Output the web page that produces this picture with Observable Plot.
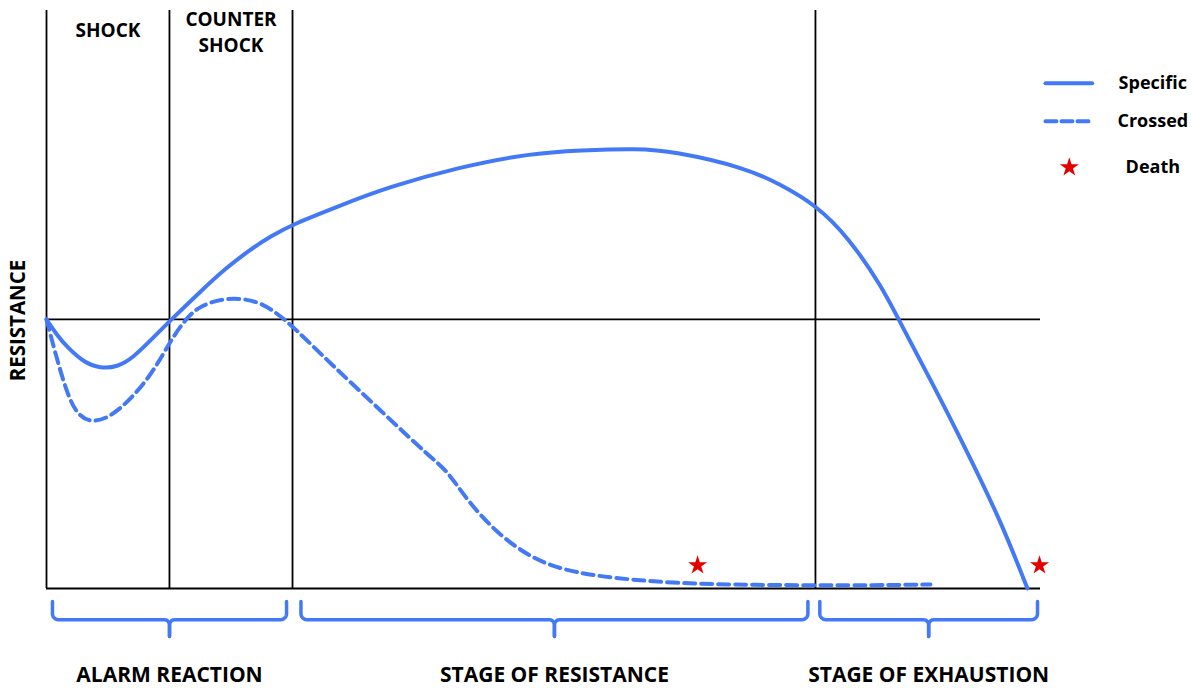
<!DOCTYPE html>
<html><head><meta charset="utf-8">
<script src="https://cdn.jsdelivr.net/npm/d3@7"></script>
<script src="https://cdn.jsdelivr.net/npm/@observablehq/plot@0.6"></script>
<style>body{margin:0;background:#fff;} svg{display:block;}</style>
</head><body><div id="chart"></div>
<script>
// ---- data (time in % of the course, resistance with normal level = 50) ----
const specificX = [0, 1.08, 2.08, 3.72, 5.43, 7.11, 8.75, 10.46, 12.47, 15.49, 18.01, 20.52, 22.54, 24.75, 29.58, 34.31, 41.51, 48.69, 53.72, 59.46, 63.08, 70.22, 73.84, 77.46, 80.68, 84.10, 85.81, 89.09, 92.56, 95.98, 98.69];
const specificY = [50, 47.03, 44.85, 42.06, 40.89, 41.13, 42.94, 46.10, 49.81, 55.20, 59.48, 63.01, 65.43, 67.66, 71.19, 74.54, 78.31, 80.86, 81.41, 81.78, 81.23, 78.25, 75.09, 71.19, 65.24, 55.95, 49.63, 38.29, 25.65, 12.64, 0];
const crossedX = [0, 1.08, 2.08, 3.09, 4.76, 7.11, 10.46, 12.47, 14.15, 15.49, 18.18, 21.20, 23.21, 24.85, 28.57, 33.60, 38.63, 40.31, 42.32, 45.34, 48.69, 52.01, 57.04, 63.78, 70.82, 80.89, 88.93];
const crossedY = [50, 42.38, 36.25, 32.16, 30.61, 32.53, 39.22, 46.10, 50.43, 52.60, 54.15, 53.53, 51.12, 48.57, 41.82, 33.09, 24.35, 21.93, 16.36, 10.22, 5.76, 3.35, 1.86, 0.93, 0.65, 0.56, 0.74];
const deathX = [65.5, 99.9];
const deathY = [4.3, 4.3];
const normalLevel = 50;
const phaseBounds = [0, 12.37, 24.75, 77.36];
const phaseNames = ["SHOCK", "COUNTER\nSHOCK"];
const stageNames = ["ALARM REACTION", "STAGE OF RESISTANCE", "STAGE OF EXHAUSTION"];
const stageStart = [0.6, 25.6, 77.8];
const stageEnd = [24.15, 76.6, 99.7];
const legendNames = ["Specific", "Crossed", "Death"];

// ---- layout constants ----
const X_MAX = 100, Y_TOP = 107.4;
const BLUE = "#4479f6", RED = "#e50000";
const FONT = "'Open Sans', sans-serif";

const specific = specificX.map((x, i) => ({x, y: specificY[i]}));
const crossed = crossedX.map((x, i) => ({x, y: crossedY[i]}));
const deaths = deathX.map((x, i) => ({x, y: deathY[i]}));

// braces below the axis
const bTop = -2.4, bBot = -5.8, bTick = -8.9;
function arc(cx, cy, rx, ry, a0, a1, n = 6) {
  const pts = [];
  for (let k = 0; k <= n; k++) {
    const t = a0 + (a1 - a0) * k / n;
    pts.push([cx + rx * Math.cos(t), cy + ry * Math.sin(t)]);
  }
  return pts;
}
const braces = [];
stageStart.forEach((a, i) => {
  const b = stageEnd[i], m = (a + b) / 2;
  const er = 0.6, ey = 1.1, mr = 0.5, my = 1.0;
  const L = [[a, bTop], ...arc(a + er, bBot + ey, er, ey, Math.PI, 1.5 * Math.PI), ...arc(m - mr, bBot - my, mr, my, 0.5 * Math.PI, 0), [m, bTick]];
  const R = L.map(([x, y]) => [a + b - x, y]);
  L.forEach(([x, y]) => braces.push({x, y, g: "L" + i}));
  R.forEach(([x, y]) => braces.push({x, y, g: "R" + i}));
});

const stages = stageNames.map((name, i) => ({name, x: (stageStart[i] + stageEnd[i]) / 2}));
const phases = phaseNames.map((name, i) => ({name, x: (phaseBounds[i] + phaseBounds[i + 1]) / 2}));

const legendSpec = [{x: 100.5, y: 93.9}, {x: 105.2, y: 93.9}];
const legendCross = [{x: 100.5, y: 86.8}, {x: 105.2, y: 86.8}];

const chart = Plot.plot({
  width: 1193, height: 688,
  marginLeft: 46, marginRight: 153, marginTop: 10, marginBottom: 100,
  x: {domain: [0, X_MAX], axis: null},
  y: {domain: [0, Y_TOP], axis: null},
  style: {fontFamily: FONT, background: "#fff"},
  marks: [
    Plot.ruleX(phaseBounds, {y1: 0, y2: Y_TOP, stroke: "#000", strokeWidth: 1.8}),
    Plot.ruleY([0, normalLevel], {x1: 0, x2: X_MAX, stroke: "#000", strokeWidth: 1.8}),
    Plot.line(specific, {x: "x", y: "y", stroke: BLUE, strokeWidth: 4, curve: "basis"}),
    Plot.line(crossed, {x: "x", y: "y", stroke: BLUE, strokeWidth: 4, strokeDasharray: "11,6", curve: "basis"}),
    Plot.dot(deaths, {x: "x", y: "y", symbol: "star", r: 6, fill: RED, stroke: "none"}),
    Plot.line(braces, {x: "x", y: "y", z: "g", stroke: BLUE, strokeWidth: 3.5, curve: "linear", strokeLinejoin: "round"}),
    Plot.text(stages, {x: "x", y: -16.2, text: "name", fontSize: 21, fontWeight: 700, fill: "#000"}),
    Plot.text(phases, {x: "x", y: [104.0, 103.7], text: "name", fontSize: 19, fontWeight: 700, lineHeight: 1.37, fill: "#000"}),
    Plot.text(["RESISTANCE"], {x: -2.82, y: 49.8, text: d => d, rotate: -90, fontSize: 20.5, fontWeight: 700, fill: "#000"}),
    Plot.line(legendSpec, {x: "x", y: "y", stroke: BLUE, strokeWidth: 4}),
    Plot.line(legendCross, {x: "x", y: "y", stroke: BLUE, strokeWidth: 4, strokeDasharray: "11,5"}),
    Plot.dot([{x: 102.9, y: 78.25}], {x: "x", y: "y", symbol: "star", r: 6, fill: RED, stroke: "none"}),
    Plot.text(legendNames, {x: 111.3, y: [93.9, 86.8, 78.25], text: d => d, fontSize: 18, fontWeight: 700, fill: "#000"})
  ]
});
document.getElementById("chart").appendChild(chart);
</script>
</body></html>
